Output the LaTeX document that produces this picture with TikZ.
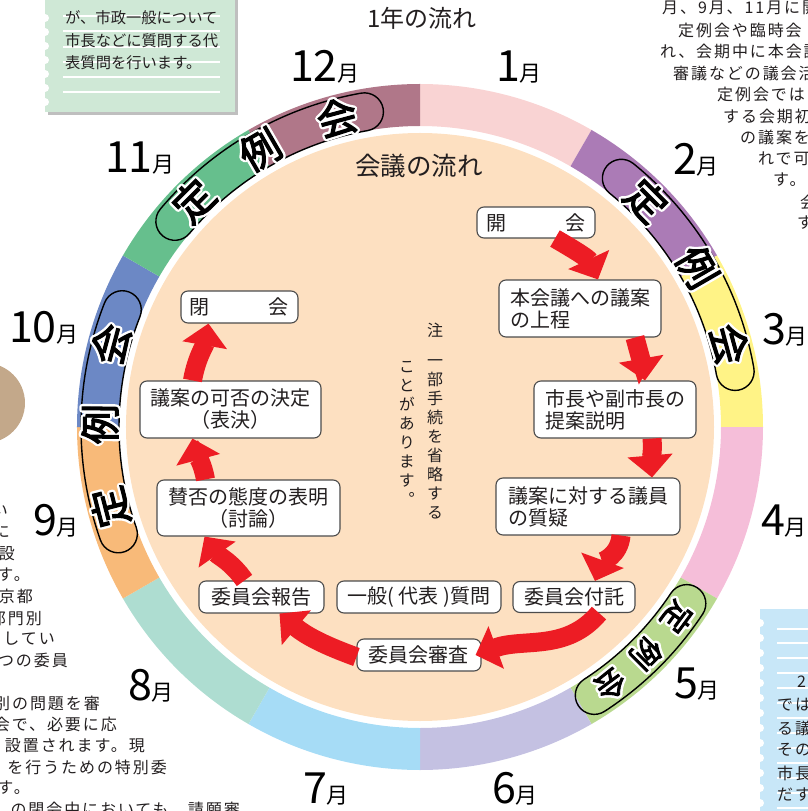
\documentclass[tikz,border=0pt]{standalone}
\usepackage{fontspec}
\usepackage{xcolor}
\usepackage{tikz}
\usetikzlibrary{arrows.meta}

\setmainfont{Noto Sans CJK JP}
\newfontfamily\jpvert[RawFeature=+vert]{Noto Sans CJK JP}
\newfontfamily\jpbody[LetterSpace=12]{Noto Sans CJK JP}
\newfontfamily\jpheavy[FakeBold=3]{Noto Sans CJK JP}
\newcommand\haloglyph[1]{\special{pdf:literal direct 2 Tr 6 w 1 j}#1}

\definecolor{peach}{HTML}{FDE0C1}
\definecolor{janpink}{HTML}{F9D3D3}
\definecolor{febpurple}{HTML}{AB7BB6}
\definecolor{maryellow}{HTML}{FFF386}
\definecolor{aprpink}{HTML}{F5BED9}
\definecolor{maygreen}{HTML}{B9D98F}
\definecolor{junlav}{HTML}{C4C1E2}
\definecolor{julblue}{HTML}{A6DCF6}
\definecolor{augmint}{HTML}{AEDDD1}
\definecolor{seporange}{HTML}{F8BA79}
\definecolor{octblue}{HTML}{6C88C5}
\definecolor{novgreen}{HTML}{66BF8D}
\definecolor{decmauve}{HTML}{B07789}
\definecolor{flowred}{HTML}{ED1C24}
\definecolor{notegreen}{HTML}{CFE8D6}
\definecolor{noteblue}{HTML}{C8E7F8}
\definecolor{tanball}{HTML}{C3A88A}
\definecolor{inktext}{HTML}{231F20}

\begin{document}
\begin{tikzpicture}[x=1pt, y=1pt,
  flowbox/.style={draw=black!70, line width=1.1pt, fill=white, rounded corners=7pt, text=inktext, font=\fontsize{20}{22}\selectfont, inner sep=0pt, minimum height=31pt},
  flowarrow/.style={draw=flowred, line width=19pt, -{Triangle[width=44pt,length=22pt]}},
  month/.style={font=\fontsize{43}{43}\selectfont, inner sep=0pt, anchor=base},
  capsule/.style={draw=black, line width=1.4pt},
  teirei/.style={font=\jpheavy\fontsize{40}{40}\selectfont, inner sep=0pt},
  teireihalo/.style={font=\fontsize{40}{40}\selectfont, text=white, inner sep=0pt},
  teireismall/.style={font=\jpheavy\fontsize{30}{30}\selectfont, inner sep=0pt},
  teireihalosmall/.style={font=\fontsize{30}{30}\selectfont, text=white, inner sep=0pt},
  sidetext/.style={font=\jpbody\fontsize{16}{19}\selectfont, text=inktext, inner sep=0pt},
  notetext/.style={font=\fontsize{15.3}{18}\selectfont, text=inktext, inner sep=0pt, anchor=west},
]
\useasboundingbox (-420,-384) rectangle (388,427);
\clip (-420,-384) rectangle (388,427);

% Green note (top left)
\fill[black!25] (-372,429) rectangle (-182,312);
\fill[notegreen] (-375,432) rectangle (-185,315);
\fill[white] (-375,409) circle[radius=4] (-375,395) circle[radius=4] (-375,381) circle[radius=4]
  (-375,367) circle[radius=4] (-375,353) circle[radius=4] (-375,339) circle[radius=4] (-375,325) circle[radius=4];
\draw[white, line width=1.2pt] (-357,411) -- (-200,411) (-357,396) -- (-200,396) (-357,380) -- (-200,380)
  (-357,365) -- (-200,365) (-357,350) -- (-200,350) (-357,335) -- (-200,335);
\node[notetext] (g1) at (-355,409) {が、市政一般について};
\node[notetext] (g2) at (-355,386) {市長などに質問する代};
\node[notetext] (g3) at (-355,364) {表質問を行います。};

% Blue note (bottom right)
\fill[noteblue] (340,-182) rectangle (400,-400);
\fill[white] (340,-196) circle[radius=4] (340,-211) circle[radius=4] (340,-226) circle[radius=4]
  (340,-241) circle[radius=4] (340,-256) circle[radius=4] (340,-271) circle[radius=4] (340,-286) circle[radius=4]
  (340,-301) circle[radius=4] (340,-316) circle[radius=4] (340,-331) circle[radius=4] (340,-346) circle[radius=4]
  (340,-361) circle[radius=4] (340,-376) circle[radius=4];
\draw[white, line width=1.2pt] (357,-202) -- (400,-202) (357,-216) -- (400,-216) (357,-231) -- (400,-231)
  (357,-246) -- (400,-246) (357,-261) -- (400,-261) (357,-276) -- (400,-276) (357,-291) -- (400,-291)
  (357,-306) -- (400,-306) (357,-321) -- (400,-321) (357,-336) -- (400,-336) (357,-351) -- (400,-351)
  (357,-366) -- (400,-366) (357,-381) -- (400,-381);
\node[sidetext, anchor=west] (b0) at (377,-255) {2};
\node[sidetext, anchor=west] (b1) at (357,-278) {では};
\node[sidetext, anchor=west] (b2) at (357,-301) {る議};
\node[sidetext, anchor=west] (b3) at (357,-323) {その};
\node[sidetext, anchor=west] (b4) at (357,-346) {市長};
\node[sidetext, anchor=west] (b5) at (357,-368) {だす};

% Tan ball (left edge)
\fill[tanball] (-435,24) circle[radius=40];

% Text running round the right side
\node[sidetext, anchor=west] (r1) at (242,419) {月、9月、11月に開};
\node[sidetext, anchor=west] (r2) at (258,397) {定例会や臨時会};
\node[sidetext, anchor=west] (r3) at (240,376) {れ、会期中に本会議};
\node[sidetext, anchor=west] (r4) at (253,354) {審議などの議会活};
\node[sidetext, anchor=west] (r5) at (297,333) {定例会では};
\node[sidetext, anchor=west] (r6) at (303,311) {する会期初};
\node[sidetext, anchor=west] (r7) at (320,290) {の議案を};
\node[sidetext, anchor=west] (r8) at (338,268) {れで可};
\node[sidetext, anchor=west] (r9) at (353,247) {す。};
\node[sidetext, anchor=west] (r10) at (380,225) {会};
\node[sidetext, anchor=west] (r11) at (377,204) {す};

% Text running round the left side
\node[sidetext, anchor=east] (l1) at (-412,-84) {い};
\node[sidetext, anchor=east] (l2) at (-410,-105) {に};
\node[sidetext, anchor=east] (l3) at (-405,-127) {設};
\node[sidetext, anchor=east] (l4) at (-390,-148) {す。};
\node[sidetext, anchor=east] (l5) at (-387,-169) {京都};
\node[sidetext, anchor=east] (l6) at (-378,-191) {部門別};
\node[sidetext, anchor=east] (l7) at (-365,-212) {してい};
\node[sidetext, anchor=east] (l8) at (-352,-233) {つの委員};
\node[sidetext, anchor=east] (l9) at (-320,-276) {別の問題を審};
\node[sidetext, anchor=east] (l10) at (-303,-297) {会で、必要に応};
\node[sidetext, anchor=east] (l11) at (-275,-319) {設置されます。現};
\node[sidetext, anchor=east] (l12) at (-253,-340) {を行うための特別委};
\node[sidetext, anchor=east] (l13) at (-390,-361) {す。};
\node[sidetext, anchor=east] (l14) at (-180,-382) {の閉会中においても、請願審};

% Month ring
\fill[janpink] (90:343) arc[start angle=90,end angle=60,radius=343] -- (60:301) arc[start angle=60,end angle=90,radius=301] -- cycle;
\fill[febpurple] (60:343) arc[start angle=60,end angle=30,radius=343] -- (30:301) arc[start angle=30,end angle=60,radius=301] -- cycle;
\fill[maryellow] (30:343) arc[start angle=30,end angle=0,radius=343] -- (0:301) arc[start angle=0,end angle=30,radius=301] -- cycle;
\fill[aprpink] (0:343) arc[start angle=0,end angle=-30,radius=343] -- (-30:301) arc[start angle=-30,end angle=0,radius=301] -- cycle;
\fill[maygreen] (-30:343) arc[start angle=-30,end angle=-60,radius=343] -- (-60:301) arc[start angle=-60,end angle=-30,radius=301] -- cycle;
\fill[junlav] (-60:343) arc[start angle=-60,end angle=-90,radius=343] -- (-90:301) arc[start angle=-90,end angle=-60,radius=301] -- cycle;
\fill[julblue] (-90:343) arc[start angle=-90,end angle=-120,radius=343] -- (-120:301) arc[start angle=-120,end angle=-90,radius=301] -- cycle;
\fill[augmint] (-120:343) arc[start angle=-120,end angle=-150,radius=343] -- (-150:301) arc[start angle=-150,end angle=-120,radius=301] -- cycle;
\fill[seporange] (-150:343) arc[start angle=-150,end angle=-180,radius=343] -- (-180:301) arc[start angle=-180,end angle=-150,radius=301] -- cycle;
\fill[octblue] (180:343) arc[start angle=180,end angle=150,radius=343] -- (150:301) arc[start angle=150,end angle=180,radius=301] -- cycle;
\fill[novgreen] (150:343) arc[start angle=150,end angle=120,radius=343] -- (120:301) arc[start angle=120,end angle=150,radius=301] -- cycle;
\fill[decmauve] (120:343) arc[start angle=120,end angle=90,radius=343] -- (90:301) arc[start angle=90,end angle=120,radius=301] -- cycle;

% Inner disc
\fill[peach] (0,0) circle[radius=294];

% Capsules for the regular sessions
\draw[capsule] (140:339) arc[start angle=140,end angle=100,radius=339] arc[start angle=100,end angle=-80,radius=19]
  arc[start angle=100,end angle=140,radius=301] arc[start angle=320,end angle=140,radius=19] -- cycle;
\draw[capsule] (51:339) arc[start angle=51,end angle=10,radius=339] arc[start angle=10,end angle=-170,radius=19]
  arc[start angle=10,end angle=51,radius=301] arc[start angle=231,end angle=51,radius=19] -- cycle;
\draw[capsule] (199.5:339) arc[start angle=199.5,end angle=158.5,radius=339] arc[start angle=158.5,end angle=-21.5,radius=19]
  arc[start angle=158.5,end angle=199.5,radius=301] arc[start angle=379.5,end angle=199.5,radius=19] -- cycle;
\draw[capsule] (-33.5:339) arc[start angle=-33.5,end angle=-57,radius=339] arc[start angle=-57,end angle=-237,radius=19]
  arc[start angle=-57,end angle=-33.5,radius=301] arc[start angle=146.5,end angle=-33.5,radius=19] -- cycle;

% White rims of the 定例会 characters
\node[teireihalo, rotate=45] (a1h) at (135:320) {\haloglyph{定}};
\node[teireihalo, rotate=30] (a2h) at (120:320) {\haloglyph{例}};
\node[teireihalo, rotate=15] (a3h) at (105:320) {\haloglyph{会}};
\node[teireihalo, rotate=-45] (b1h) at (45:320) {\haloglyph{定}};
\node[teireihalo, rotate=-60] (b2h) at (30:320) {\haloglyph{例}};
\node[teireihalo, rotate=-75] (b3h) at (15:320) {\haloglyph{会}};
\node[teireihalosmall, rotate=-126.5] (c1h) at (-36.5:320) {\haloglyph{定}};
\node[teireihalosmall, rotate=-135] (c2h) at (-45:320) {\haloglyph{例}};
\node[teireihalosmall, rotate=-143.5] (c3h) at (-53.5:320) {\haloglyph{会}};
\node[teireihalo, rotate=104.5] (d1h) at (194.5:320) {\haloglyph{定}};
\node[teireihalo, rotate=89.5] (d2h) at (179.5:320) {\haloglyph{例}};
\node[teireihalo, rotate=75] (d3h) at (165:320) {\haloglyph{会}};

% 定例会 (11月-12月)
\node[teirei, rotate=45] (a1) at (135:320) {定};
\node[teirei, rotate=30] (a2) at (120:320) {例};
\node[teirei, rotate=15] (a3) at (105:320) {会};
% 定例会 (2月-3月)
\node[teirei, rotate=-45] (b1) at (45:320) {定};
\node[teirei, rotate=-60] (b2) at (30:320) {例};
\node[teirei, rotate=-75] (b3) at (15:320) {会};
% 定例会 (5月)
\node[teireismall, rotate=-126.5] (c1) at (-36.5:320) {定};
\node[teireismall, rotate=-135] (c2) at (-45:320) {例};
\node[teireismall, rotate=-143.5] (c3) at (-53.5:320) {会};
% 定例会 (9月-10月)
\node[teirei, rotate=104.5] (d1) at (194.5:320) {定};
\node[teirei, rotate=89.5] (d2) at (179.5:320) {例};
\node[teirei, rotate=75] (d3) at (165:320) {会};

% Month labels
\node[month] (m1) at (99,345) {1\fontsize{22}{22}\selectfont 月};
\node[month] (m2) at (276,252) {2\fontsize{22}{22}\selectfont 月};
\node[month] (m3) at (365,82) {3\fontsize{22}{22}\selectfont 月};
\node[month] (m4) at (364,-108) {4\fontsize{22}{22}\selectfont 月};
\node[month] (m5) at (277,-271) {5\fontsize{22}{22}\selectfont 月};
\node[month] (m6) at (95,-376) {6\fontsize{22}{22}\selectfont 月};
\node[month] (m7) at (-94,-376) {7\fontsize{22}{22}\selectfont 月};
\node[month] (m8) at (-269,-273) {8\fontsize{22}{22}\selectfont 月};
\node[month] (m9) at (-364,-108) {9\fontsize{22}{22}\selectfont 月};
\node[month] (m10) at (-376,84) {10\fontsize{22}{22}\selectfont 月};
\node[month] (m11) at (-280,254) {11\fontsize{22}{22}\selectfont 月};
\node[month] (m12) at (-95,345) {12\fontsize{22}{22}\selectfont 月};

% Titles
\node[font=\fontsize{24}{24}\selectfont, text=inktext] (yeartitle) at (2,409) {1年の流れ};
\node[font=\fontsize{25.5}{26}\selectfont, text=inktext] (flowtitle) at (-1,261) {会議の流れ};

% Flow of a session
\node[flowbox, minimum width=118pt, text width=100pt, align=left] (open) at (116,204.5) {開\hfill 会};
\node[flowbox, minimum width=162pt, minimum height=57pt, align=left] (hon) at (160,118.5) {本会議への議案\\の上程};
\node[flowbox, minimum width=162pt, minimum height=57pt, align=left] (mayor) at (195,17.5) {市長や副市長の\\提案説明};
\node[flowbox, minimum width=184pt, minimum height=57pt, align=left] (question) at (168,-79.5) {議案に対する議員\\の質疑};
\node[flowbox, minimum width=122pt] (refer) at (154,-170) {委員会付託};
\node[flowbox, minimum width=164pt, minimum height=32pt] (general) at (-1,-170) {一般( 代表 )質問};
\node[flowbox, minimum width=124pt, minimum height=32pt] (review) at (-1,-228) {委員会審査};
\node[flowbox, minimum width=125pt, minimum height=32pt] (report) at (-158.5,-170) {委員会報告};
\node[flowbox, minimum width=183pt, minimum height=56pt, align=center] (debate) at (-171.5,-81) {賛否の態度の表明\\（討論）};
\node[flowbox, minimum width=181pt, minimum height=57pt, align=center] (vote) at (-189.5,17.5) {議案の可否の決定\\（表決）};
\node[flowbox, minimum width=117pt, minimum height=32pt, text width=99pt, align=left] (close) at (-180.5,120) {閉\hfill 会};

% Red arrows
\draw[flowarrow] ([xshift=19pt]open.south) to[out=-30,in=115] ([xshift=18pt]hon.north);
\draw[flowarrow] ([xshift=55pt]hon.south) to[out=-75,in=100] ([xshift=30pt]mayor.north);
\draw[flowarrow] ([xshift=37pt]mayor.south) to[out=-85,in=95] ([xshift=64pt]question.north);
\draw[flowarrow] ([xshift=33pt]question.south) to[out=-95,in=70] ([xshift=21pt]refer.north);
\draw[flowarrow] ([xshift=25pt]refer.south) to[out=-130,in=20] ([xshift=-6pt]review.east);
\draw[flowarrow] ([yshift=-2pt]review.west) to[out=160,in=-40] ([xshift=18pt]report.south);
\draw[flowarrow] ([xshift=-17pt]report.north) to[out=125,in=-55] ([xshift=-44pt]debate.south);
\draw[flowarrow] ([xshift=-43pt]debate.north) to[out=100,in=-75] ([xshift=-38pt]vote.south);
\draw[flowarrow] ([xshift=-38pt]vote.north) to[out=80,in=-100] ([xshift=-31pt]close.south);

% Note in vertical writing
\node[font=\jpvert\fontsize{16}{19}\selectfont, text=inktext, inner sep=0pt] (note0) at (15,97) {注};
\node[font=\jpvert\fontsize{16}{19}\selectfont, text=inktext, inner sep=0pt, align=center] (note1) at (15,-12)
  {一\\部\\手\\続\\を\\省\\略\\す\\る};
\node[font=\jpvert\fontsize{16}{19}\selectfont, text=inktext, inner sep=0pt, align=center] (note2) at (-13,-6.5)
  {こ\\と\\が\\あ\\り\\ま\\す\\。};

\end{tikzpicture}
\end{document}
